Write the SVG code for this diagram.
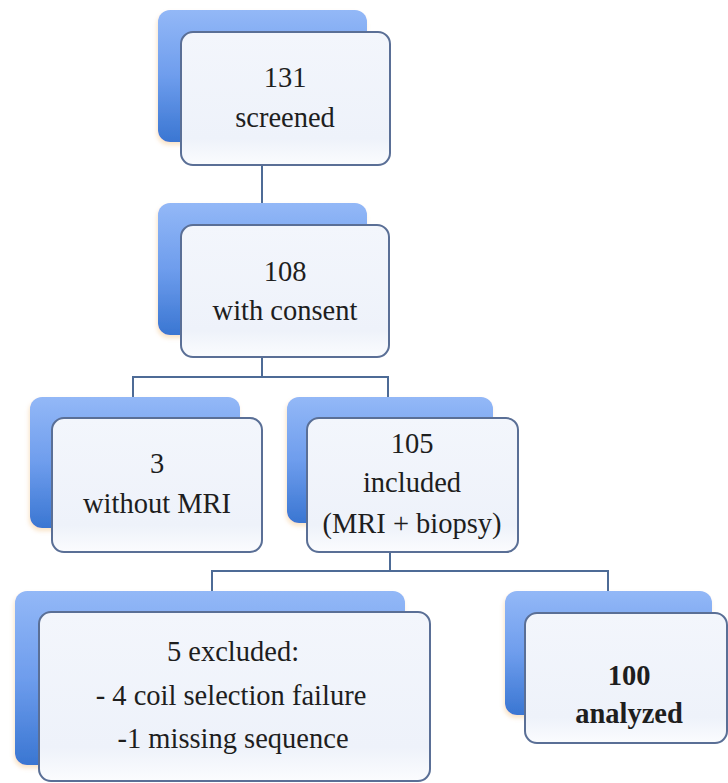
<svg xmlns="http://www.w3.org/2000/svg" width="728" height="783" viewBox="0 0 728 783">
<style>
.back{fill:url(#bg);filter:url(#glow)}
.front{fill:url(#fg);stroke:#5a6f96;stroke-width:2}
.t{font-family:'Liberation Serif','DejaVu Serif',serif;font-size:28.5px;fill:#1e1e1e;text-anchor:middle}
.b{font-weight:bold}
.conn{fill:none;stroke:#4d6b96;stroke-width:2}
</style>
<defs>
<linearGradient id="bg" x1="0" y1="0" x2="0" y2="1">
<stop offset="0" stop-color="#93b8f7"/>
<stop offset="0.5" stop-color="#6e9ded"/>
<stop offset="1" stop-color="#3a76d2"/>
</linearGradient>
<linearGradient id="fg" x1="0" y1="0" x2="0" y2="1">
<stop offset="0" stop-color="#f3f6fc"/>
<stop offset="0.8" stop-color="#eef2fa"/>
<stop offset="1" stop-color="#fbfcfe"/>
</linearGradient>
<filter id="glow" x="-10%" y="-10%" width="120%" height="125%">
<feGaussianBlur in="SourceAlpha" stdDeviation="2"/>
<feOffset dx="-1" dy="3" result="o"/>
<feFlood flood-color="#f3c890" flood-opacity="0.5"/>
<feComposite in2="o" operator="in"/>
<feMerge><feMergeNode/><feMergeNode in="SourceGraphic"/></feMerge>
</filter>
</defs>
<rect width="728" height="783" fill="#ffffff"/>
<g id="connectors">
<path class="conn" d="M262,165 V204"/>
<path class="conn" d="M262,357 V377 M133,377 H388 M133,376 V397 M388,376 V397"/>
<path class="conn" d="M390,552 V571 M212,571 H608 M212,570 V591 M608,570 V591"/>
</g>
<g font-family="Liberation Serif, DejaVu Serif, serif">
<g id="n1">
<rect class="back" x="158" y="10" width="209" height="132" rx="12"/>
<rect class="front" x="181" y="32" width="209" height="133" rx="12"/>
<text class="t" x="285" y="87">131</text>
<text class="t" x="285" y="127">screened</text>
</g>
<g id="n2">
<rect class="back" x="158" y="203" width="209" height="132" rx="12"/>
<rect class="front" x="181" y="225" width="208" height="132" rx="12"/>
<text class="t" x="285" y="281">108</text>
<text class="t" x="285" y="320">with consent</text>
</g>
<g id="n3">
<rect class="back" x="30" y="397" width="210" height="131" rx="12"/>
<rect class="front" x="52" y="418" width="210" height="134" rx="12"/>
<text class="t" x="157" y="473">3</text>
<text class="t" x="157" y="513">without MRI</text>
</g>
<g id="n4">
<rect class="back" x="287" y="397" width="206" height="126" rx="12"/>
<rect class="front" x="307" y="418" width="211" height="134" rx="12"/>
<text class="t" x="412" y="453">105</text>
<text class="t" x="412" y="492">included</text>
<text class="t" x="412" y="533">(MRI + biopsy)</text>
</g>
<g id="n5">
<rect class="back" x="15" y="591" width="390" height="174" rx="12"/>
<rect class="front" x="39" y="612" width="391" height="169" rx="12"/>
<text class="t" x="233" y="661">5 excluded:</text>
<text class="t" x="231" y="705">- 4 coil selection failure</text>
<text class="t" x="233" y="748">-1 missing sequence</text>
</g>
<g id="n6">
<rect class="back" x="505" y="591" width="207" height="124" rx="12"/>
<rect class="front" x="525" y="613" width="202" height="130" rx="12"/>
<text class="t b" x="629" y="685">100</text>
<text class="t b" x="629" y="723">analyzed</text>
</g>
</g>
</svg>
